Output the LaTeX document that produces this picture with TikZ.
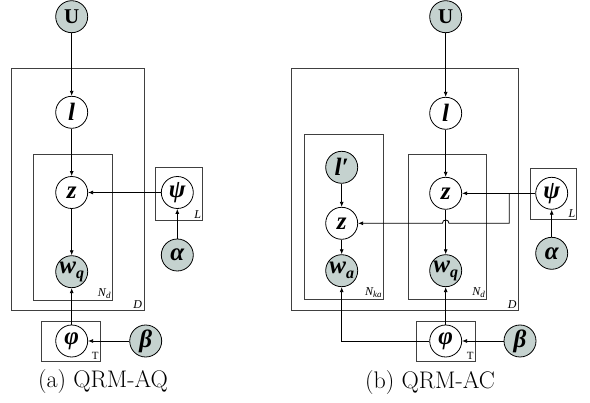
\documentclass[tikz,border=0pt]{standalone}
\usepackage{fontspec}
\usepackage{tikz}
\usetikzlibrary{arrows.meta,positioning}
\newfontfamily\pgmfont{Liberation Serif}
\definecolor{obs}{HTML}{C5D2CF}
\definecolor{platec}{HTML}{404040}
\newcommand{\pgmvar}[1]{{\pgmfont\bfseries\itshape #1}}
\newcommand{\pgmsub}[2]{\pgmvar{#1\raisebox{-0.45ex}{\fontsize{16}{18}\selectfont #2}}}

\begin{document}
\begin{tikzpicture}[
    x=1pt,y=-1pt,
    var/.style={circle,draw,line width=0.8pt,minimum size=32pt,inner sep=0pt,font=\fontsize{25}{28}\selectfont},
    obsvar/.style={var,fill=obs},
    plate/.style={draw=platec,line width=0.8pt,inner sep=0pt},
    platelabel/.style={anchor=south east,inner sep=2pt,font=\pgmfont\itshape\fontsize{12}{14}\selectfont},
    caption/.style={font=\fontsize{24}{28}\selectfont},
    arrow/.style={-{Latex[length=5pt,width=4pt]},line width=0.8pt}
  ]
    \useasboundingbox (0,0) rectangle (590,403);
    % (a) QRM-AQ
    \node[plate,minimum width=132.3pt,minimum height=242pt] (Da) at (77.8,189) {};
    \node[plate,minimum width=79pt,minimum height=146pt] (Nda) at (72.8,227) {};
    \node[plate,minimum width=47.3pt,minimum height=52.7pt] (La) at (178.7,193.7) {};
    \node[plate,minimum width=58.3pt,minimum height=39.3pt] (Ta) at (70.8,341.3) {};
    \node[platelabel] at (Da.south east) {D};
    \node[platelabel] at (Nda.south east) {N\raisebox{-0.3ex}{\fontsize{9}{10}\selectfont d}};
    \node[platelabel,inner sep=1.5pt] at (La.south east) {L};
    \node[platelabel,font=\pgmfont\fontsize{11}{13}\selectfont,inner sep=1.5pt] at (Ta.south east) {T};
    \node[obsvar,font=\fontsize{21}{24}\selectfont] (Ua) at (71.7,16.7) {\pgmfont\bfseries U};
    \node[var] (la) at (71.7,112.3) {\pgmvar{l}};
    \node[var] (za) at (71.7,192.5) {\pgmvar{z}};
    \node[obsvar] (wqa) at (71.7,271.7) {\pgmsub{w}{q}};
    \node[var] (psia) at (177.3,192.5) {\pgmvar{ψ}};
    \node[obsvar] (alphaa) at (177.3,255) {\pgmvar{α}};
    \node[var] (phia) at (71.7,341) {\pgmvar{φ}};
    \node[obsvar] (betaa) at (145.7,341) {\pgmvar{β}};
    \node[caption] (capa) at (103,382) {(a) QRM-AQ};
    \draw[arrow] (Ua) -- (la);
    \draw[arrow] (la) -- (za);
    \draw[arrow] (za) -- (wqa);
    \draw[arrow] (psia) -- (za);
    \draw[arrow] (alphaa) -- (psia);
    \draw[arrow] (phia) -- (wqa);
    \draw[arrow] (betaa) -- (phia);
    % (b) QRM-AC
    \node[plate,minimum width=227.3pt,minimum height=241.7pt] (Db) at (404.7,189.2) {};
    \node[plate,minimum width=79pt,minimum height=165.3pt] (Nkab) at (343.8,216.7) {};
    \node[plate,minimum width=78.4pt,minimum height=145pt] (Ndb) at (447.5,226.8) {};
    \node[plate,minimum width=46.7pt,minimum height=51pt] (Lb) at (553.3,193.8) {};
    \node[plate,minimum width=59pt,minimum height=39.3pt] (Tb) at (445.5,341.3) {};
    \node[platelabel] at (Db.south east) {D};
    \node[platelabel] at (Nkab.south east) {N\raisebox{-0.3ex}{\fontsize{9}{10}\selectfont ka}};
    \node[platelabel] at (Ndb.south east) {N\raisebox{-0.3ex}{\fontsize{9}{10}\selectfont d}};
    \node[platelabel,inner sep=1.5pt] at (Lb.south east) {L};
    \node[platelabel,font=\pgmfont\fontsize{11}{13}\selectfont,inner sep=1.5pt] at (Tb.south east) {T};
    \node[obsvar,font=\fontsize{21}{24}\selectfont] (Ub) at (445.7,16.7) {\pgmfont\bfseries U};
    \node[var] (lb) at (445.7,113.3) {\pgmvar{l}};
    \node[obsvar] (lpb) at (341.7,167.3) {\pgmvar{l′}};
    \node[var] (zab) at (341.7,223.3) {\pgmvar{z}};
    \node[obsvar] (wab) at (341.7,270.7) {\pgmsub{w}{a}};
    \node[var] (zqb) at (445.7,193.3) {\pgmvar{z}};
    \node[obsvar] (wqb) at (445.7,270.7) {\pgmsub{w}{q}};
    \node[var] (psib) at (551.7,193.3) {\pgmvar{ψ}};
    \node[obsvar] (alphab) at (551.7,253.3) {\pgmvar{α}};
    \node[var] (phib) at (445.7,341) {\pgmvar{φ}};
    \node[obsvar] (betab) at (520,341) {\pgmvar{β}};
    \node[caption] (capb) at (430,383) {(b) QRM-AC};
    \coordinate (br1) at (509.3,193.3);
    \coordinate (br2) at (509.3,223.3);
    \draw[arrow] (Ub) -- (lb);
    \draw[arrow] (lb) -- (zqb);
    \draw[arrow] (zqb) -- (wqb);
    \draw[arrow] (lpb) -- (zab);
    \draw[arrow] (zab) -- (wab);
    \draw[arrow] (psib) -- (zqb);
    \draw[arrow] (br1) -- (br2) -- (449,223.3)
      .. controls (449,218.9) and (442.4,218.9) .. (442.4,223.3) -- (zab);
    \draw[arrow] (alphab) -- (psib);
    \draw[arrow] (phib) -- (wqb);
    \draw[arrow] (phib) -| (wab);
    \draw[arrow] (betab) -- (phib);
  \end{tikzpicture}
\end{document}
